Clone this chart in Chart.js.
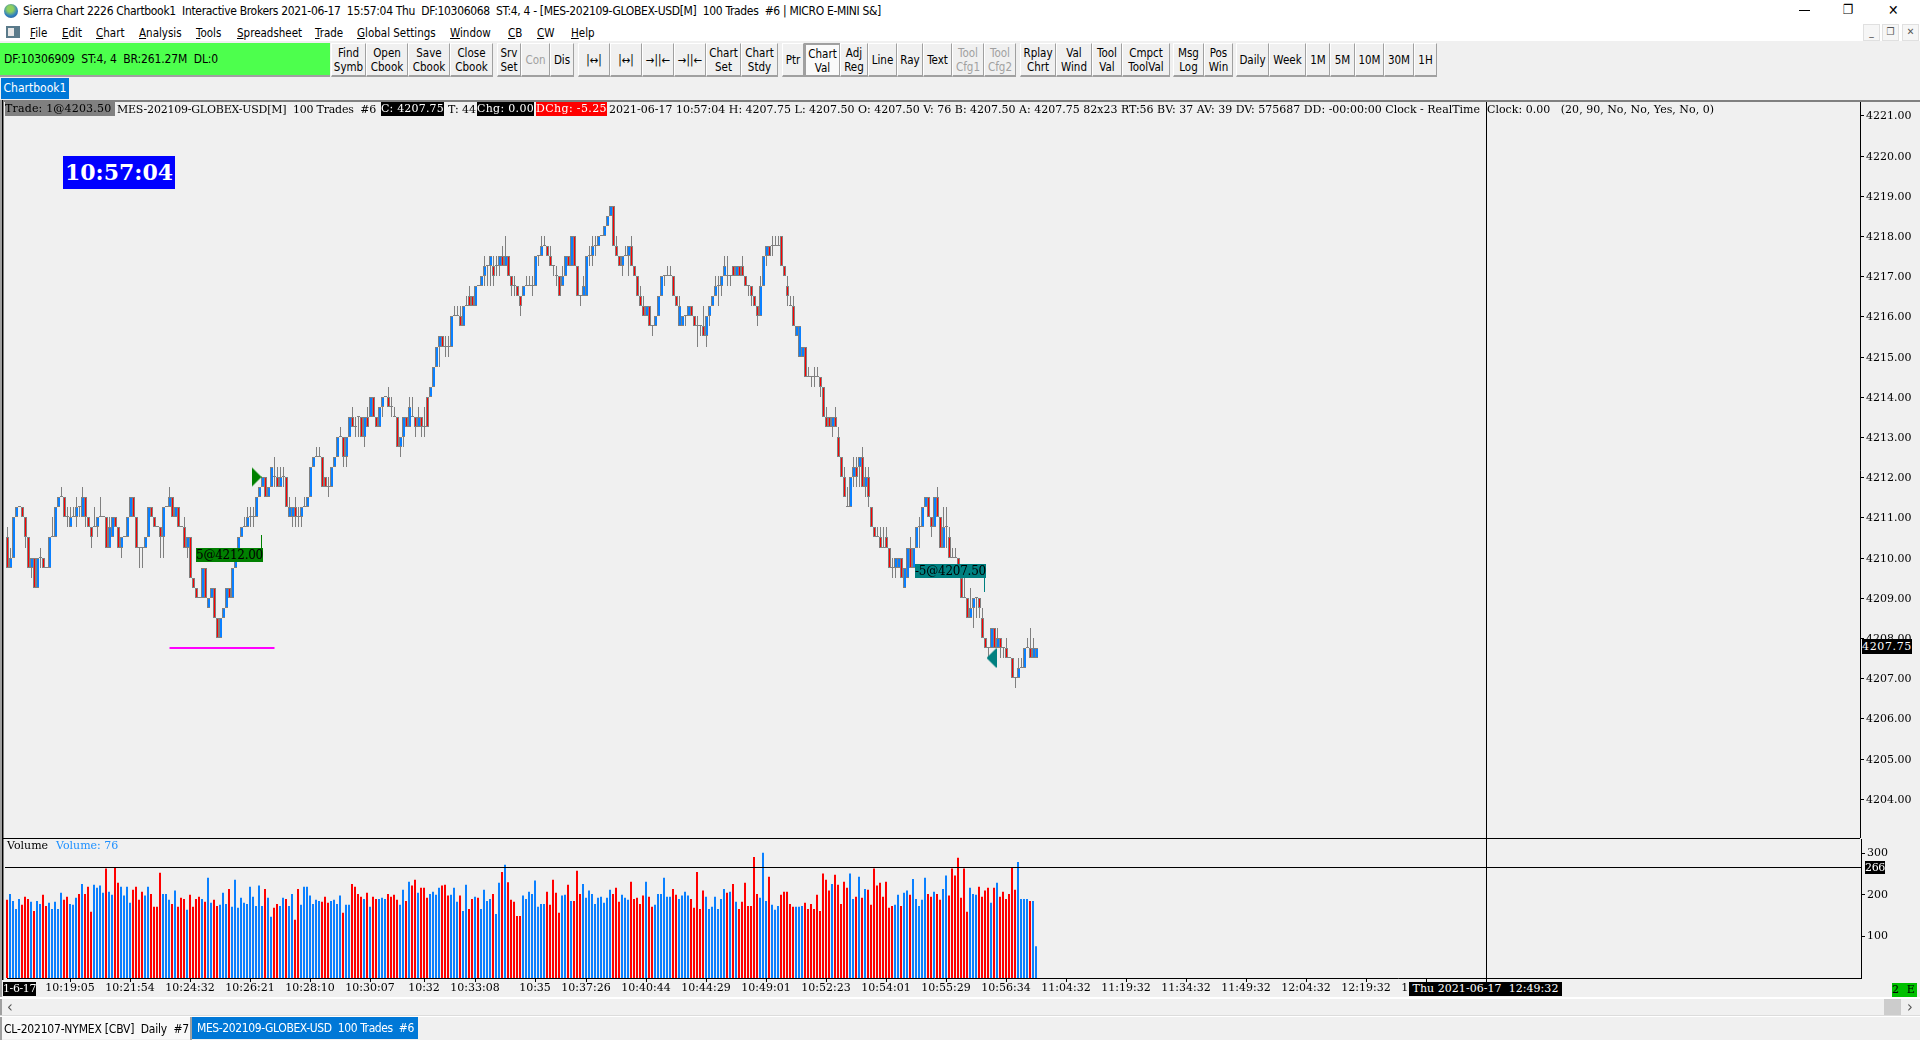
<!DOCTYPE html>
<html>
<head>
<meta charset="utf-8">
<title>Sierra Chart</title>
<script src="https://cdn.jsdelivr.net/npm/chart.js@4"></script>
<style>
  html, body { margin: 0; padding: 0; width: 1920px; height: 1040px; overflow: hidden; background: #fff; }
  #app { position: relative; width: 1920px; height: 1040px; overflow: hidden; }
  #app div, #app span { position: absolute; white-space: pre; box-sizing: border-box; }
  canvas { position: absolute; }
  .ui { font-family: "DejaVu Sans Condensed", "DejaVu Sans", sans-serif; font-size: 12px; color: #000; }
  .ser { font-family: "DejaVu Serif", serif; font-size: 11px; color: #000; }
  .btn { text-align: center; border-top: 1px solid #fff; border-left: 1px solid #fff;
         border-right: 1px solid #a0a0a0; border-bottom: 2px solid #a0a0a0; background: #f0f0f0;
         line-height: 14px; padding-top: 1px; display: flex; align-items: center; justify-content: center; }
</style>
</head>
<body>
<div id="app">
  <canvas id="priceChart" width="1914" height="736" style="left:6px;top:102px"></canvas>
  <canvas id="volumeChart" width="1915" height="159" style="left:5px;top:839px"></canvas>
</div>
<script>
// bars are 100-trade bars, prices stored as quarter ticks above 4208.00
const BASE_PRICE = 4208;
const TICK = 0.25;

const openTicks = [
  10,7,8,12,13,13,12,10,7,8,5,8,8,7,7,10,10,13,14,14,
  12,11,12,12,13,12,14,12,11,11,11,12,12,12,9,10,12,11,9,10,
  10,12,14,12,9,9,9,10,13,12,11,11,10,13,13,14,12,13,11,11,
  9,10,6,5,4,4,7,3,4,5,2,0,2,3,5,4,7,8,10,11,
  11,12,12,12,14,15,16,14,15,16,16,15,16,16,13,12,13,12,12,13,
  13,14,17,18,18,18,15,15,15,17,18,20,20,18,20,22,21,22,22,20,
  22,22,24,22,21,23,24,24,23,22,22,19,20,22,21,22,22,21,22,21,
  21,24,25,27,29,30,29,29,29,32,32,32,31,33,33,34,33,35,35,36,
  37,37,37,37,37,38,37,38,36,35,35,34,34,35,35,35,35,38,38,39,
  39,38,37,36,36,35,36,38,37,40,37,34,34,34,38,38,39,39,40,40,
  41,42,43,39,38,37,38,38,39,37,36,34,33,32,33,31,31,32,34,36,
  36,36,36,34,33,31,32,32,33,32,31,31,31,30,32,33,34,35,35,36,
  36,36,36,37,36,37,36,35,35,34,33,32,35,38,39,39,39,39,40,37,
  35,33,33,30,31,28,29,26,26,26,26,26,25,22,22,21,22,20,18,16,
  13,13,16,17,17,18,15,16,13,11,10,10,9,10,9,7,7,7,8,5,
  6,9,7,9,11,11,13,14,12,11,14,12,9,11,10,8,8,8,6,4,
  4,2,3,4,4,2,0,-1,-1,1,-1,0,-1,-1,-2,-2,-4,-4,-3,-3,
  -1,-1,-2,-2
];
const closeTicks = [
  7,8,12,13,13,12,10,7,8,5,8,8,7,7,10,10,13,14,14,12,
  12,12,12,13,13,14,12,11,10,11,12,12,12,9,11,12,11,9,10,10,
  12,14,12,9,9,9,10,13,12,11,11,10,13,13,14,12,13,11,11,9,
  10,6,5,4,4,7,4,4,5,2,0,2,3,5,4,7,8,10,11,11,
  12,12,12,14,15,16,14,15,17,16,15,16,16,13,12,13,12,12,13,13,
  14,17,18,18,18,15,16,15,17,18,20,20,18,20,22,21,21,22,20,22,
  21,24,22,21,23,24,24,23,23,22,19,20,22,21,23,22,21,22,21,21,
  24,25,27,29,30,29,29,29,32,32,32,31,33,33,34,33,35,35,36,37,
  37,38,36,37,38,37,38,36,35,35,34,33,35,35,35,35,38,38,39,39,
  38,37,37,36,34,36,38,37,40,37,34,34,35,38,38,39,39,40,40,41,
  42,43,39,38,37,38,38,39,37,36,34,33,32,33,31,31,32,34,36,36,
  36,36,34,33,31,32,32,33,32,31,31,31,30,32,33,34,35,35,36,37,
  36,36,37,36,37,36,35,35,34,33,32,35,38,39,38,39,39,39,37,36,
  34,33,31,31,28,29,26,26,26,26,26,25,22,21,21,22,21,18,16,14,
  13,16,17,16,18,15,16,14,11,10,10,9,9,9,7,7,8,8,6,7,
  9,7,9,11,11,13,14,12,11,14,12,9,11,11,8,8,8,7,4,4,
  2,3,4,4,3,0,-1,-1,1,-1,0,-1,-1,-2,-2,-4,-4,-3,-3,-1,
  -1,-2,-1,-1
];
const lowTicks = [
  7,7,8,12,13,12,9,7,6,5,5,7,7,7,7,10,10,13,14,12,
  11,11,12,11,12,12,11,11,9,11,10,12,12,9,9,10,11,9,8,10,
  10,12,12,9,7,7,9,10,12,11,11,8,8,13,13,12,12,11,11,9,
  8,6,5,4,4,4,4,3,4,2,0,0,2,3,4,4,7,8,10,11,
  11,11,11,12,14,15,14,14,15,15,15,15,15,13,12,11,11,11,11,13,
  13,14,17,18,18,15,15,14,15,17,18,20,17,17,20,21,20,20,20,19,
  21,22,22,21,21,22,24,23,22,22,19,18,19,21,21,22,20,21,20,20,
  21,24,25,27,27,29,28,28,29,32,32,31,31,33,33,33,33,35,35,35,
  35,35,35,36,36,37,37,36,34,34,34,32,34,35,35,34,35,37,38,39,
  38,37,36,35,34,35,36,37,37,37,34,33,34,34,37,37,38,39,40,40,
  41,42,39,38,37,36,38,36,37,36,34,33,32,32,31,30,31,32,34,35,
  36,36,34,33,31,31,31,32,32,31,29,30,30,29,31,33,34,33,34,36,
  35,35,36,36,36,36,35,34,33,33,31,32,35,37,38,38,39,39,37,36,
  33,33,31,30,28,28,26,26,25,25,26,24,22,21,21,20,21,18,16,14,
  13,13,15,15,15,15,14,13,11,10,10,9,9,9,7,6,6,7,6,5,
  6,7,7,9,9,11,13,12,10,11,12,9,9,9,8,8,8,7,4,4,
  2,2,1,2,2,0,-1,-2,-1,-1,-1,-2,-2,-2,-2,-4,-5,-4,-3,-3,
  -1,-2,-2,-2
];
const highTicks = [
  11,9,12,13,13,13,12,10,8,8,8,9,8,7,10,12,13,14,15,14,
  13,13,13,14,13,15,14,12,11,13,12,14,12,12,12,12,12,11,10,10,
  12,14,14,12,9,9,10,13,13,12,11,11,13,13,15,14,13,13,11,12,
  10,10,6,5,4,7,7,4,5,5,2,2,3,5,5,7,8,10,11,12,
  13,13,13,14,15,16,16,15,17,18,17,17,17,16,14,13,14,13,13,14,
  14,17,18,19,19,18,16,16,17,18,20,21,20,20,22,23,22,22,22,22,
  23,24,24,22,23,24,24,25,24,23,22,20,22,22,24,24,22,23,22,23,
  24,25,27,29,30,30,30,30,32,33,33,33,33,34,35,34,35,35,36,38,
  37,38,38,38,38,39,40,38,36,36,35,34,35,36,36,36,38,38,40,40,
  39,39,37,37,36,37,38,38,40,40,37,34,36,38,39,40,40,40,40,41,
  42,43,43,40,38,38,39,39,40,37,36,35,34,33,33,31,32,34,36,36,
  37,37,36,34,34,32,32,33,33,32,32,31,33,32,33,34,36,36,36,38,
  38,36,37,37,37,38,36,35,35,34,33,36,38,39,39,40,40,40,40,37,
  36,34,34,31,31,29,29,27,26,27,27,26,25,23,22,22,23,21,18,17,
  15,16,18,18,18,19,17,17,13,11,11,11,11,11,9,8,8,8,8,7,
  9,10,9,11,12,13,14,14,12,14,15,12,13,13,11,9,9,8,6,6,
  4,5,4,4,4,3,0,-1,1,1,1,0,-1,0,-2,-2,-4,-2,-2,-1,
  0,1,0,-1
];
const volumes = [
  188,202,185,166,190,176,195,190,183,161,185,178,200,173,181,166,183,166,205,188,
  195,178,176,193,202,226,202,219,159,224,217,222,205,263,207,200,267,229,219,198,
  219,181,212,219,188,207,198,219,202,171,171,253,202,202,188,178,210,171,193,190,
  164,200,171,190,195,190,183,241,181,188,173,176,205,178,214,171,236,169,193,181,
  178,219,195,173,222,173,214,193,147,169,178,173,193,190,173,202,140,214,176,219,
  219,198,178,188,185,183,195,181,185,188,178,198,157,176,176,226,219,202,195,190,
  205,171,195,190,190,193,190,202,195,200,188,176,212,185,231,222,236,205,217,217,
  193,202,207,200,217,222,224,198,200,217,183,198,161,224,166,190,195,193,166,212,
  185,190,202,154,229,255,272,230,188,183,149,149,198,190,207,202,234,171,178,178,
  207,176,236,205,157,198,200,224,185,185,258,202,226,193,210,202,178,193,195,181,
  193,212,202,217,183,200,193,188,231,190,193,178,198,231,195,171,176,202,202,241,
  195,195,214,200,190,198,207,198,190,169,255,166,210,195,166,171,195,166,190,214,
  205,207,226,183,166,183,229,173,173,291,202,193,301,185,243,176,164,173,200,207,
  207,178,171,171,171,173,181,166,178,166,200,161,251,236,210,226,248,224,178,231,
  217,251,190,195,243,193,214,212,176,263,222,229,195,231,169,173,176,200,173,205,
  210,200,238,190,173,188,241,202,195,207,202,188,214,246,198,263,246,289,193,263,
  159,217,202,200,219,195,210,217,181,217,229,195,207,190,202,265,212,279,190,190,
  190,185,185,76
];
// r = red bar, b = blue bar
const barSides = (
  "rbbbbrrrbrbbrrbbbbbr" + "rbbbrbrrrbbbbrbbrrbb" + "bbrrrrbbrrrrbbbrbrrr" +
  "brrrrbrbbrrbbbrbbbbb" + "bbbbbbrbbrrbbrbbrrbb" + "bbbbbrrrbbbbrbbrrrrb" +
  "rbrrbbbrrrrbbrbrrbrr" + "rbbbbrrrbbbrbbrrbrbb" + "bbrbbrbrrrrrbbbbbbbb" +
  "rrrrrbbrbrrrbbbbbbbb" + "bbrrrbbbrrrrrbrrbbbb" + "bbrrbbbbrrrrrbbbbbbb" +
  "rbrbrrrrrrrbbbrbbbrr" + "rrrbbbrrrrrrrrrbrrrr" + "rbbrbrbrrrrrrrrrbbrb" +
  "brbbbbbrrbrrbbrrrrrr" + "rbbbrrrrbrbrrrrrrbbb" + "brbb"
).split("");

const priceTicks = [4221,4220,4219,4218,4217,4216,4215,4214,4213,4212,4211,4210,4209,4208,4207,4206,4205,4204];
const volumeTicks = [100, 200, 300];
const SLOT_COUNT = 618;
const tickBars = [21,41,61,81,101,121,139,156,176,193,213,233,253,273,293,313,333,353,373,393,413,433,453,473,493];
const tickLabels = ["10:19:05","10:21:54","10:24:32","10:26:21","10:28:10","10:30:07","10:32","10:33:08","10:35",
  "10:37:26","10:40:44","10:44:29","10:49:01","10:52:23","10:54:01","10:55:29","10:56:34","11:04:32","11:19:32",
  "11:34:32","11:49:32","12:04:32","12:19:32","12:34:32","12:49:32"];

const cursorBar = 493;
const cursorVolume = 266;
const lowLineFrom = 54, lowLineTo = 89, lowLinePrice = 4207.75;
const buyBar = 83, buyPrice = 4212;
const sellBar = 328, sellPrice = 4207.5;

const BLUE = "#0a80ff", RED = "#ff0000", GREY = "#808080", PANEL = "#f0f0f0";
const SERIF = '"DejaVu Serif", serif';

const toPrice = (t) => BASE_PRICE + t * TICK;
const slots = Array.from({ length: SLOT_COUNT }, () => "");
tickBars.forEach((b, i) => { slots[b] = tickLabels[i]; });
const slotLabels = slots.map((s, i) => s || "b" + i);
const sideColor = barSides.map((s) => (s === "r" ? RED : BLUE));

const wickData = highTicks.map((h, i) => [toPrice(lowTicks[i]), toPrice(h)]);
const bodyData = openTicks.map((o, i) => [toPrice(o), toPrice(closeTicks[i])]);

function triangleMark(pointsRight, color) {
  const c = document.createElement("canvas");
  c.width = 10; c.height = 20;
  const g = c.getContext("2d");
  g.fillStyle = color;
  g.beginPath();
  if (pointsRight) { g.moveTo(0, 0); g.lineTo(10, 10); g.lineTo(0, 20); }
  else { g.moveTo(10, 0); g.lineTo(0, 10); g.lineTo(10, 20); }
  g.fill();
  return c;
}

function onlyAt(bar, value) {
  return slotLabels.map((_, i) => (i === bar ? value : null));
}

// thin black cursor lines, placed through the chart's own scales
const cursorPlugin = {
  id: "cursor",
  afterDraw(chart) {
    const { ctx, chartArea, scales } = chart;
    ctx.save();
    ctx.fillStyle = "#000";
    const x = Math.floor(scales.x.getPixelForValue(cursorBar));
    ctx.fillRect(x, chartArea.top, 1, chartArea.bottom - chartArea.top);
    if (chart.canvas.id === "volumeChart") {
      const y = Math.floor(scales.y.getPixelForValue(cursorVolume));
      ctx.fillRect(0, y, chartArea.right, 1);
    }
    ctx.restore();
  }
};

function snapScale(scale) {
  // keep marks on whole pixels, the original is drawn without anti-aliasing
  const proto = Object.getPrototypeOf(scale);
  scale.getPixelForValue = (v) => Math.round(proto.getPixelForValue.call(scale, v));
}

new Chart(document.getElementById("priceChart"), {
  type: "bar",
  data: {
    labels: slotLabels,
    datasets: [
      { type: "line", data: slotLabels.map((_, i) => (i >= lowLineFrom && i <= lowLineTo ? lowLinePrice : null)),
        borderColor: "#ff00ff", borderWidth: 2, pointRadius: 0, order: 0 },
      { type: "line", data: onlyAt(buyBar, buyPrice), showLine: false, pointStyle: triangleMark(true, "#008000"), order: 0 },
      { type: "line", data: onlyAt(sellBar, sellPrice), showLine: false, pointStyle: triangleMark(false, "#008080"), order: 0 },
      { data: bodyData, backgroundColor: sideColor, borderColor: GREY,
        // red bodies show a thin stripe between two grey edges, blue ones a wider stripe
        borderWidth: (c) => (barSides[c.dataIndex] === "r"
          ? { top: 1, bottom: 1, left: 1, right: 1 }
          : { top: 1, bottom: 1, left: 1, right: 0 }),
        borderSkipped: false, barThickness: 3, minBarLength: 1, inflateAmount: 0, order: 1 },
      { data: wickData, backgroundColor: GREY, barThickness: 1, inflateAmount: 0, order: 2 }
    ]
  },
  options: {
    responsive: false,
    animation: false,
    events: [],
    layout: { padding: 0, autoPadding: false },
    datasets: { bar: { grouped: false } },
    plugins: { legend: { display: false }, tooltip: { enabled: false } },
    scales: {
      x: { type: "category", display: false, offset: true },
      y: {
        position: "right",
        min: 4203.025,
        max: 4221.333,
        afterBuildTicks: (s) => { s.ticks = priceTicks.map((v) => ({ value: v })); },
        afterFit: (s) => { s.width = 60; s.paddingTop = 0; s.paddingBottom = 0; snapScale(s); },
        border: { display: true, color: "#000", width: 1 },
        grid: { drawOnChartArea: false, drawTicks: true, tickLength: 4, color: "#000" },
        ticks: { autoSkip: false, color: "#000", padding: 2, labelOffset: 1, font: { family: SERIF, size: 11 },
                 callback: (v) => v.toFixed(2) }
      }
    }
  },
  plugins: [cursorPlugin]
});

new Chart(document.getElementById("volumeChart"), {
  type: "bar",
  data: {
    labels: Array.from({ length: SLOT_COUNT + 1 }, (_, i) => slots[i] || ""),
    datasets: [
      { data: volumes, backgroundColor: sideColor, barThickness: 2, inflateAmount: 0, clip: false }
    ]
  },
  options: {
    responsive: false,
    animation: false,
    events: [],
    layout: { padding: { left: 2 }, autoPadding: false },
    plugins: { legend: { display: false }, tooltip: { enabled: false } },
    scales: {
      // offset off: bar centres fall on whole pixels so the 2px bars stay sharp
      x: {
        type: "category",
        offset: false,
        afterBuildTicks: (s) => { s.ticks = s.ticks.filter((t) => slots[t.value]); },
        afterFit: (s) => { s.height = 20; s.paddingLeft = 0; s.paddingRight = 0; },
        border: { display: true, color: "#000", width: 1 },
        grid: { drawOnChartArea: false, offset: false, drawTicks: true, tickLength: 4, color: "#000" },
        ticks: { autoSkip: false, maxRotation: 0, minRotation: 0, color: "#000", padding: 0,
                 font: { family: SERIF, size: 11 } }
      },
      y: {
        position: "right",
        min: 0,
        max: 334,
        afterBuildTicks: (s) => { s.ticks = volumeTicks.map((v) => ({ value: v })); },
        afterFit: (s) => { s.width = 59; s.paddingTop = 0; s.paddingBottom = 0; },
        border: { display: true, color: "#000", width: 1 },
        grid: { drawOnChartArea: false, drawTicks: true, tickLength: 4, color: "#000" },
        ticks: { autoSkip: false, color: "#000", padding: 2, font: { family: SERIF, size: 11 } }
      }
    }
  },
  plugins: [cursorPlugin]
});

// ---- window chrome around the chart, all plain DOM text ----
const app = document.getElementById("app");
const canvases = Array.from(app.querySelectorAll("canvas"));

function box(x, y, w, h, bg, behind) {
  const d = document.createElement("div");
  d.style.cssText = `left:${x}px;top:${y}px;width:${w}px;height:${h}px;background:${bg}`;
  if (behind) app.insertBefore(d, canvases[0]); else app.appendChild(d);
  return d;
}

// text with its left edge at x, vertically centred on cy; w stretches it to the measured width
function label(txt, x, cy, cls, opts = {}) {
  const s = document.createElement("span");
  const lh = opts.lh || 16;
  s.className = cls;
  s.textContent = txt;
  s.style.left = x + "px";
  s.style.lineHeight = lh + "px";
  s.style.top = cy - lh / 2 + "px";
  if (opts.color) s.style.color = opts.color;
  if (opts.size) s.style.fontSize = opts.size + "px";
  if (opts.bg) s.style.background = opts.bg;
  app.appendChild(s);
  if (opts.w) {
    const natural = s.getBoundingClientRect().width;
    s.style.letterSpacing = (opts.w - natural) / txt.length + "px";
  }
  return s;
}

box(0, 41, 1920, 61, PANEL, true);
box(0, 100, 1920, 2, "#808080", true);
box(0, 102, 1920, 896, PANEL, true);
box(0, 998, 1920, 42, PANEL, true);
box(2, 100, 1, 880, "#000", false);
box(3, 100, 1, 880, "#808080", false);
box(0, 100, 2, 940, "#a0a0a0", false);

// title bar
const icon = box(4, 4, 14, 14, "radial-gradient(circle at 45% 35%, #8fd060 0 25%, #2f7fc0 60%, #30507a 100%)");
icon.style.borderRadius = "50%";
label("Sierra Chart 2226 Chartbook1  Interactive Brokers 2021-06-17  15:57:04 Thu  DF:10306068  ST:4, 4 - [MES-202109-GLOBEX-USD[M]  100 Trades  #6 | MICRO E-MINI S&]", 23, 11, "ui", { w: 858 });
box(1799, 10, 11, 1, "#000");
label("\u2750", 1843, 10, "ui", { size: 13 });
label("\u2715", 1888, 10, "ui", { size: 14 });
const mdiButtons = [[1863, "_"], [1882, "\u2750"], [1902, "\u2715"]];
mdiButtons.forEach(([x, t]) => {
  const d = box(x, 24, 17, 17, "#f6f6f6");
  d.className = "ui";
  d.style.cssText += ";border:1px solid #e0e0e0;text-align:center;font-size:10px;line-height:14px;color:#555";
  d.textContent = t;
});

// menu row
box(6, 26, 14, 12, "#5a7a8a");
box(8, 28, 6, 8, "#e8e8e8");
const menuItems = [["File", 30], ["Edit", 62], ["Chart", 96], ["Analysis", 139], ["Tools", 196], ["Spreadsheet", 237],
  ["Trade", 315], ["Global Settings", 357], ["Window", 450], ["CB", 508], ["CW", 537], ["Help", 571]];
menuItems.forEach(([t, x]) => {
  const s = label(t, x, 33, "ui", { size: 11.5 });
  s.innerHTML = "<u style='text-decoration-thickness:1px'>" + t[0] + "</u>" + t.slice(1);
});

// status box and toolbar
box(0, 43, 330, 32, "#4dff4d");
box(0, 75, 330, 2, "#a0a0a0");
label("DF:10306909  ST:4, 4  BR:261.27M  DL:0", 4, 59, "ui", { w: 214 });
const toolbar = [
  [331,366,"Find\nSymb"],[366,408,"Open\nCbook"],[408,450,"Save\nCbook"],[450,493,"Close\nCbook"],
  [497,521,"Srv\nSet"],[521,550,"Con",1],[550,574,"Dis"],
  [578,610,"|\u2194|"],[610,642,"|\u2194|"],[642,674,"\u2192||\u2190"],[674,706,"\u2192||\u2190"],
  [706,741,"Chart\nSet"],[741,778,"Chart\nStdy"],[782,804,"Ptr"],[804,840,"Chart\nVal"],[840,868,"Adj\nReg"],
  [868,897,"Line"],[897,923,"Ray"],[923,952,"Text"],[952,984,"Tool\nCfg1",1],[984,1016,"Tool\nCfg2",1],
  [1020,1056,"Rplay\nChrt"],[1056,1092,"Val\nWind"],[1092,1122,"Tool\nVal"],[1122,1170,"Cmpct\nToolVal"],
  [1173,1204,"Msg\nLog"],[1204,1233,"Pos\nWin"],[1236,1269,"Daily"],[1269,1306,"Week"],[1306,1330,"1M"],
  [1330,1355,"5M"],[1355,1384,"10M"],[1384,1414,"30M"],[1414,1437,"1H"]
];
toolbar.forEach(([x0, x1, t, dim]) => {
  const d = box(x0, 43, x1 - x0, 34, "#f0f0f0");
  d.className = "ui btn";
  d.style.fontSize = "11.5px";
  if (dim) d.style.color = "#a0a0a0";
  if (t === "Chart\nVal") { d.style.borderTop = "2px solid #a0a0a0"; d.style.borderLeft = "2px solid #a0a0a0"; d.style.background = "#fafafa"; }
  d.textContent = t;
});

// chartbook tab
const tab = box(1, 78, 68, 21, "#0078d7");
tab.className = "ui";
tab.style.cssText += ";color:#fff;line-height:20px;text-align:center";
tab.textContent = "Chartbook1";

// chart header line
const head = { lh: 14 };
label("Trade: 1@4203.50 ", 5, 109, "ser", { ...head, bg: "#808080", w: 110 });
label("MES-202109-GLOBEX-USD[M]  100 Trades  #6", 117, 110, "ser", { ...head, w: 259 });
label("C: 4207.75", 381, 109, "ser", { ...head, bg: "#000", color: "#fff", w: 63 });
label("T: 44", 448, 110, "ser", { ...head, w: 28 });
label("Chg: 0.00", 477, 109, "ser", { ...head, bg: "#000", color: "#fff", w: 57 });
label("DChg: -5.25", 536, 109, "ser", { ...head, bg: "#ff0000", color: "#fff", w: 71 });
label("2021-06-17 10:57:04 H: 4207.75 L: 4207.50 O: 4207.50 V: 76 B: 4207.50 A: 4207.75 82x23 RT:56 BV: 37 AV: 39 DV: 575687 DD: -00:00:00 Clock - RealTime", 609, 110, "ser", { ...head, w: 871 });
label("Clock: 0.00   (20, 90, No, No, Yes, No, 0)", 1487, 110, "ser", { ...head, w: 227 });

// clock box
const clock = box(63, 156, 112, 33, "#0000ff");
clock.className = "ser";
clock.style.cssText += ";color:#fff;font-size:22px;font-weight:bold;line-height:33px;text-align:center";
clock.textContent = "10:57:04";

// fill labels with their stems
box(261, 535, 1, 13, "#008000");
label("5@4212.00", 196, 555, "ser", { bg: "#008000", w: 67, size: 12, lh: 14 });
box(984, 578, 1, 14, "#008080");
label("-5@4207.50", 915, 571, "ser", { bg: "#008080", w: 71, size: 12, lh: 14 });

// last price and cursor value on the scales
label("4207.75", 1862, 646, "ser", { bg: "#000", color: "#fff", w: 50, lh: 15 });
label("266", 1865, 867, "ser", { bg: "#000", color: "#fff", w: 20, lh: 13 });

// volume pane
box(3, 838, 1857, 1, "#000");
label("Volume", 7, 846, "ser");
label("Volume: 76", 56, 846, "ser", { color: "#1e90ff" });

// time row extras
label("1-6-17", 3, 989, "ser", { bg: "#000", color: "#fff", w: 33, lh: 14 });
label(" Thu 2021-06-17  12:49:32 ", 1409, 989, "ser", { bg: "#000", color: "#fff", w: 153, lh: 14 });
label("2 E", 1892, 990, "ser", { bg: "#00c000", w: 25, lh: 14 });

// scroll bar and sheet tabs
box(0, 997, 1920, 2, "#ffffff");
box(0, 1015, 1920, 1, "#dcdcdc");
box(0, 1016, 1920, 1, "#ffffff");
label("\u2039", 7, 1007, "ui", { size: 16, color: "#555" });
box(1884, 999, 17, 16, "#cccccc");
label("\u203A", 1907, 1007, "ui", { size: 16, color: "#555" });
box(2, 1017, 188, 22, "#f8f8f8");
label("CL-202107-NYMEX [CBV]  Daily  #7", 4, 1029, "ui", { w: 185 });
box(190, 1017, 2, 23, "#a0a0a0");
box(192, 1017, 226, 22, "#0078d7");
label("MES-202109-GLOBEX-USD  100 Trades  #6", 197, 1028, "ui", { color: "#fff", w: 217 });
</script>
</body>
</html>
